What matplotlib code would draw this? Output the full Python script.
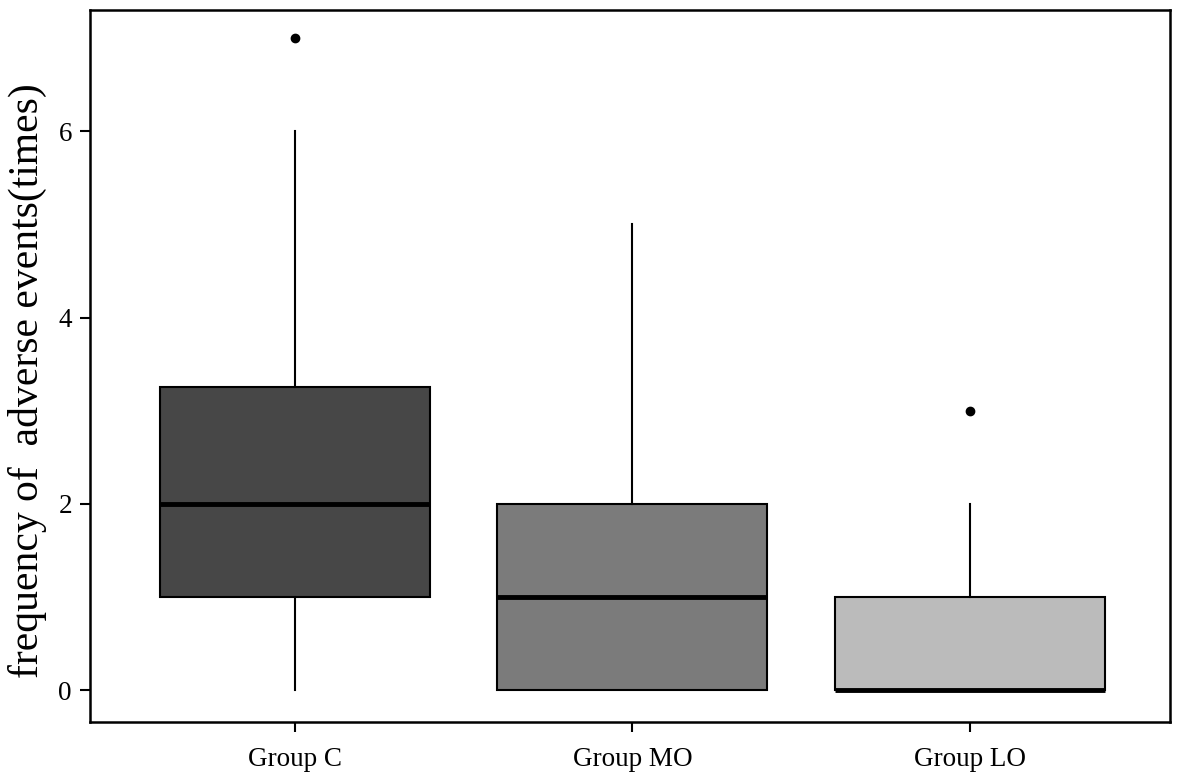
import matplotlib
matplotlib.use('Agg')
import matplotlib.pyplot as plt

groups = ['Group C', 'Group MO', 'Group LO']
whislo = [0, 0, 0]
q1 = [1, 0, 0]
med = [2, 1, 0]
q3 = [3.25, 2, 1]
whishi = [6, 5, 2]
fliers = [[7], [], [3]]
colors = ['#474747', '#7b7b7b', '#bbbbbb']

plt.rcParams['font.family'] = 'Liberation Serif'

fig = plt.figure(figsize=(11.79, 7.82), dpi=100)
ax = fig.add_axes([90 / 1179, 60 / 782, 1080 / 1179, 712 / 782])

stats = []
for i, g in enumerate(groups):
    stats.append({'label': g, 'whislo': whislo[i], 'q1': q1[i], 'med': med[i],
                  'q3': q3[i], 'whishi': whishi[i], 'fliers': fliers[i]})

bp = ax.bxp(stats, positions=[1, 2, 3], widths=0.8, patch_artist=True,
            showcaps=False,
            boxprops=dict(linewidth=1.5, edgecolor='black'),
            whiskerprops=dict(linewidth=1.5, color='black'),
            medianprops=dict(linewidth=3.5, color='black'),
            flierprops=dict(marker='o', markerfacecolor='black',
                            markeredgecolor='black', markersize=6))
for patch, c in zip(bp['boxes'], colors):
    patch.set_facecolor(c)

ax.set_xlim(0.393, 3.593)
ax.set_ylim(-0.34, 7.3)
ax.set_yticks([0, 2, 4, 6])
ax.set_ylabel('frequency of  adverse events(times)', fontsize=30)
ax.yaxis.set_label_coords(-0.04, 0.48)
ax.tick_params(axis='y', labelsize=19.5, length=7, width=1.5,
               direction='out', pad=6)
ax.tick_params(axis='x', labelsize=19.5, length=7, width=1.5,
               direction='out', pad=11)
for s in ax.spines.values():
    s.set_linewidth(1.8)

fig.savefig('out.png', dpi=100)
